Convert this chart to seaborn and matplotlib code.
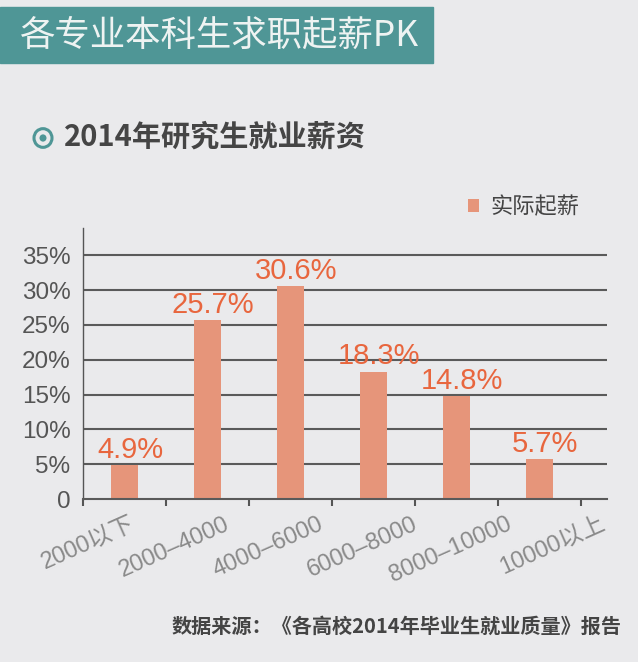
import matplotlib
matplotlib.use("Agg")
import matplotlib.pyplot as plt
import matplotlib.transforms as mtransforms
from matplotlib.patches import Rectangle, Circle
import seaborn as sns
import pandas as pd

categories = ["2000以下", "2000–4000", "4000–6000", "6000–8000", "8000–10000", "10000以上"]
values = [4.9, 25.7, 30.6, 18.3, 14.8, 5.7]
value_labels = ["4.9%", "25.7%", "30.6%", "18.3%", "14.8%", "5.7%"]
yticks = [0, 5, 10, 15, 20, 25, 30, 35]
ytick_labels = ["0", "5%", "10%", "15%", "20%", "25%", "30%", "35%"]
series_name = "实际起薪"
title = "各专业本科生求职起薪PK"
subtitle = "2014年研究生就业薪资"
source = "数据来源：《各高校2014年毕业生就业质量》报告"

BG = "#eaeaec"
TEAL = "#4f9696"
BAR = "#e6957a"
LBL = "#e8663e"

sns.set_theme(style="white")
plt.rcParams["font.family"] = ["Liberation Sans", "Noto Sans CJK SC", "DejaVu Sans"]

df = pd.DataFrame({"cat": categories, "val": values})

fig = plt.figure(figsize=(6.38, 6.62), dpi=100, facecolor=BG)
ax = fig.add_axes([83 / 638, 1 - 499 / 662, (607 - 83) / 638, (499 - 228) / 662])
ax.set_facecolor(BG)

sns.barplot(data=df, x="cat", y="val", color=BAR, width=0.33, ax=ax,
            saturation=1, edgecolor="none", label=series_name)

ax.set_xlim(-0.5, 5.81)
ax.set_ylim(0, 38.9)

# grid lines
for yv in yticks[1:]:
    ax.axhline(yv, color="#5a5a5a", lw=1.5, zorder=0.5)

ax.set_yticks(yticks)
ax.set_yticklabels(ytick_labels, fontsize=17.5, color="#555555")
ax.tick_params(axis="y", length=0, pad=9)

ax.set_xticks(range(len(categories)))
ax.set_xticklabels(categories, fontsize=17, color="#8a8a8a", rotation=24,
                   ha="right", rotation_mode="anchor",
                   family=["Liberation Sans", "Noto Sans CJK SC"])
ax.tick_params(axis="x", length=0, pad=10)
# the labels fan out slightly wider than the bars in the original
for i, t in enumerate(ax.get_xticklabels()):
    off = mtransforms.ScaledTranslation((5 + 11 * i) / 100, 0, fig.dpi_scale_trans)
    t.set_transform(t.get_transform() + off)

ax.set_xticks([i - 0.5 for i in range(len(categories) + 1)], minor=True)
ax.tick_params(axis="x", which="minor", length=5, width=1.5, color="#555555",
               direction="out", bottom=True)

for s in ["top", "right"]:
    ax.spines[s].set_visible(False)
ax.spines["left"].set_color("#555555")
ax.spines["left"].set_linewidth(1.0)
ax.spines["bottom"].set_color("#5a5a5a")
ax.spines["bottom"].set_linewidth(1.5)
ax.set_xlabel("")
ax.set_ylabel("")

for i, (v, lab) in enumerate(zip(values, value_labels)):
    ax.annotate(lab, (i, v), xytext=(4, 11), textcoords="offset points",
                ha="center", va="center", fontsize=21, color=LBL)

# legend
leg = ax.legend(loc="center left", bbox_to_anchor=(448 / 638, 1 - 207 / 662),
                bbox_transform=fig.transFigure, frameon=False,
                handlelength=0.5, handleheight=0.5, handletextpad=0.5,
                prop={"family": ["Noto Sans CJK SC"], "size": 16})
for t in leg.get_texts():
    t.set_color("#444444")

# header bar
fig.patches.append(Rectangle((0, 1 - 63 / 662), 433 / 638, 56 / 662,
                             transform=fig.transFigure, color=TEAL, zorder=0))
fig.text(20 / 638, 1 - 36 / 662, title, fontsize=25.5, color="#eef3f2",
         va="center", ha="left", family=["Noto Sans CJK SC", "DejaVu Sans"])

# subtitle with icon
fig.patches.append(Circle((43 / 638, 1 - 138 / 662), 9 / 638, transform=fig.transFigure,
                          facecolor="none", edgecolor=TEAL, lw=2.2))
fig.patches.append(Circle((43 / 638, 1 - 138 / 662), 3.5 / 638, transform=fig.transFigure,
                          facecolor=TEAL, edgecolor="none"))
fig.text(64 / 638, 1 - 137 / 662, subtitle, fontsize=21, color="#454545",
         va="center", ha="left", fontweight="bold",
         family=["Noto Sans CJK SC", "DejaVu Sans"])

fig.text(622 / 638, 1 - 626 / 662, source, fontsize=14.5, color="#444444",
         va="center", ha="right", fontweight="bold",
         family=["Noto Sans CJK SC", "DejaVu Sans"])

fig.savefig("out.png", dpi=100, facecolor=BG)
